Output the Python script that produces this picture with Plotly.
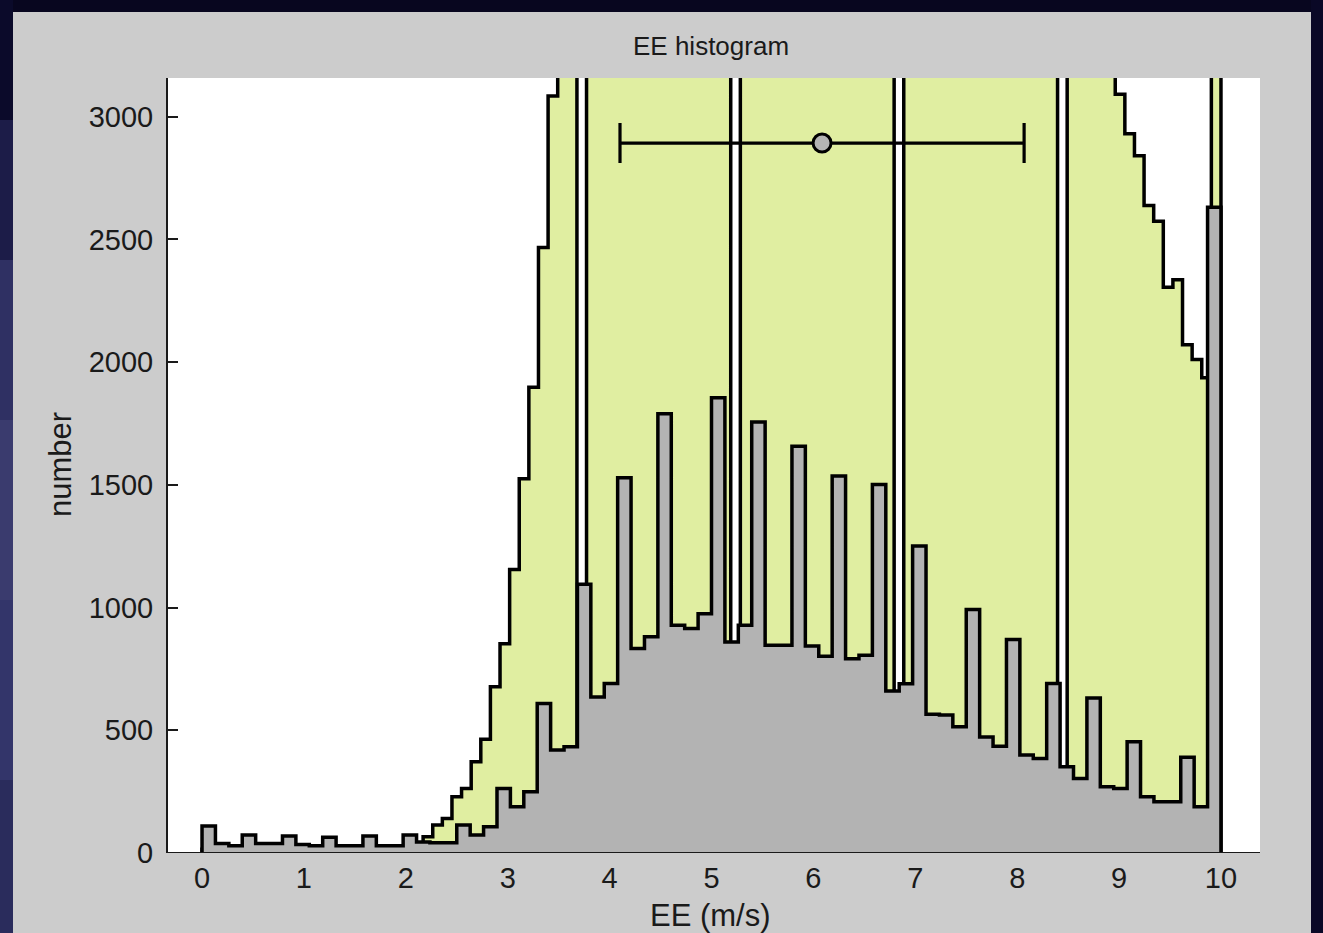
import numpy as np
import plotly.graph_objects as go

# ---------------- data ----------------
x_lo, x_hi = 0.0, 10.0

# grey histogram (76 equal bins between 0 and 10 m/s)
gray_counts = [
    110, 39, 30, 73, 39, 39, 69, 35, 30, 64,
    30, 30, 69, 30, 30, 73, 45, 42, 42, 114,
    73, 107, 263, 188, 250, 609, 420, 433, 1095, 636,
    691, 1529, 833, 881, 1790, 928, 915, 975, 1855, 860,
    928, 1756, 847, 847, 1657, 844, 802, 1536, 792, 806,
    1502, 660, 690, 1251, 565, 562, 514, 992, 473, 435,
    870, 399, 385, 691, 351, 304, 632, 270, 263, 453,
    229, 209, 209, 390, 188, 2631,
]

# green histogram (106 equal bins between 0 and 10 m/s); values above the
# axis top are estimates (clipped in the picture)
green_counts = [
    15, 15, 15, 15, 15, 15, 15, 15, 15, 15,
    15, 15, 15, 15, 15, 15, 15, 15, 15, 15,
    15, 15, 15, 66, 114, 141, 229, 263, 372, 464,
    677, 853, 1155, 1525, 1898, 2467, 3085, 3480, 3900, 0,
    4350, 4700, 5000, 5250, 5450, 5600, 5750, 5850, 5900, 5950,
    6000, 6000, 5980, 5950, 5900, 0, 5850, 5800, 5750, 5700,
    5600, 5550, 5450, 5400, 5300, 5200, 5100, 5000, 4950, 4850,
    4750, 4650, 0, 4550, 4450, 4350, 4250, 4150, 4050, 3950,
    3850, 3800, 3700, 3650, 3550, 3500, 3450, 3400, 3350, 0,
    3400, 3350, 3300, 3250, 3200, 3092, 2931, 2841, 2638, 2574,
    2305, 2336, 2071, 2011, 1937, 4200,
]

ee_mean = 6.085
ee_std = 1.983
ee_level = 2893

x_ticks = list(range(0, 11))
y_ticks = [0, 500, 1000, 1500, 2000, 2500, 3000]

gray_edges = np.linspace(x_lo, x_hi, len(gray_counts) + 1)
green_edges = np.linspace(x_lo, x_hi, len(green_counts) + 1)


def step_xy(edges, counts):
    xs = [edges[0]] + list(edges) + [edges[-1]]
    ys = [0] + list(counts) + [counts[-1], 0]
    return xs, ys


FONT = "Liberation Sans, Arial, sans-serif"
W, H = 1323, 933
L, R, T, B = 168, 63, 78, 80
LW = 3.5

fig = go.Figure()

gx, gy = step_xy(green_edges, green_counts)
fig.add_trace(go.Scatter(
    x=gx, y=gy, mode="lines", line=dict(shape="hv", color="black", width=LW),
    fill="tozeroy", fillcolor="#e0eea1", hoverinfo="skip", showlegend=False))

hx, hy = step_xy(gray_edges, gray_counts)
fig.add_trace(go.Scatter(
    x=hx, y=hy, mode="lines", line=dict(shape="hv", color="black", width=LW),
    fill="tozeroy", fillcolor="#b3b3b3", hoverinfo="skip", showlegend=False))

fig.add_trace(go.Scatter(
    x=[ee_mean], y=[ee_level], mode="markers",
    marker=dict(symbol="circle", size=18, color="#b4b4b4",
                line=dict(color="black", width=3)),
    error_x=dict(type="data", array=[ee_std], symmetric=True,
                 color="black", thickness=3.2, width=20),
    hoverinfo="skip", showlegend=False))


def px2paper_x(p):
    return (p - L) / (W - L - R)


def px2paper_y(q):
    return (H - B - q) / (H - T - B)


shapes = []
navy = "#08061f"
shapes.append(dict(type="rect", xref="paper", yref="paper", layer="below",
                   x0=px2paper_x(0), x1=px2paper_x(W), y0=px2paper_y(12), y1=px2paper_y(0),
                   fillcolor=navy, line=dict(width=0)))
shapes.append(dict(type="rect", xref="paper", yref="paper", layer="below",
                   x0=px2paper_x(1311), x1=px2paper_x(W), y0=px2paper_y(H), y1=px2paper_y(0),
                   fillcolor="#0a0826", line=dict(width=0)))
left_cols = [(0, 120, "#0b0a2a"), (120, 260, "#1c1c48"), (260, 420, "#2f3063"),
             (420, 600, "#3a3b6e"), (600, 780, "#33356a"), (780, 933, "#2a2c5c")]
for y0, y1, c in left_cols:
    shapes.append(dict(type="rect", xref="paper", yref="paper", layer="below",
                       x0=px2paper_x(0), x1=px2paper_x(13), y0=px2paper_y(y1), y1=px2paper_y(y0),
                       fillcolor=c, line=dict(width=0)))
shapes.append(dict(type="line", xref="x domain", yref="y", x0=0, x1=1, y0=0, y1=0,
                   line=dict(color="#1a1a1a", width=2), layer="above"))

annotations = [
    dict(text="EE histogram", xref="paper", yref="paper", x=px2paper_x(711), y=px2paper_y(46),
         xanchor="center", yanchor="middle", showarrow=False,
         font=dict(family=FONT, size=26, color="#1a1a1a")),
    dict(text="EE (m/s)", xref="paper", yref="paper", x=px2paper_x(710), y=px2paper_y(915),
         xanchor="center", yanchor="middle", showarrow=False,
         font=dict(family=FONT, size=31, color="#1a1a1a")),
    dict(text="number", xref="paper", yref="paper", x=px2paper_x(60), y=px2paper_y(465),
         xanchor="center", yanchor="middle", showarrow=False, textangle=-90,
         font=dict(family=FONT, size=31, color="#1a1a1a")),
]

fig.update_layout(
    width=W, height=H,
    margin=dict(l=L, r=R, t=T, b=B, pad=0),
    paper_bgcolor="#cccccc", plot_bgcolor="white",
    shapes=shapes, annotations=annotations,
    font=dict(family=FONT, color="#1a1a1a"),
    xaxis=dict(range=[-0.334, 10.383], tickvals=x_ticks, ticktext=[str(v) for v in x_ticks],
               ticks="inside", ticklen=10, tickwidth=2, tickcolor="#1a1a1a",
               showgrid=False, zeroline=False, showline=False, layer="below traces",
               tickfont=dict(family=FONT, size=29, color="#1a1a1a"), ticklabelstandoff=5),
    yaxis=dict(range=[0, 3158], tickvals=y_ticks, ticktext=[str(v) for v in y_ticks],
               ticks="inside", ticklen=10, tickwidth=2, tickcolor="#1a1a1a",
               showgrid=False, zeroline=False, showline=True, linecolor="#1a1a1a", linewidth=2,
               tickfont=dict(family=FONT, size=29, color="#1a1a1a"), ticklabelstandoff=7),
)

fig.write_html("out.html")
